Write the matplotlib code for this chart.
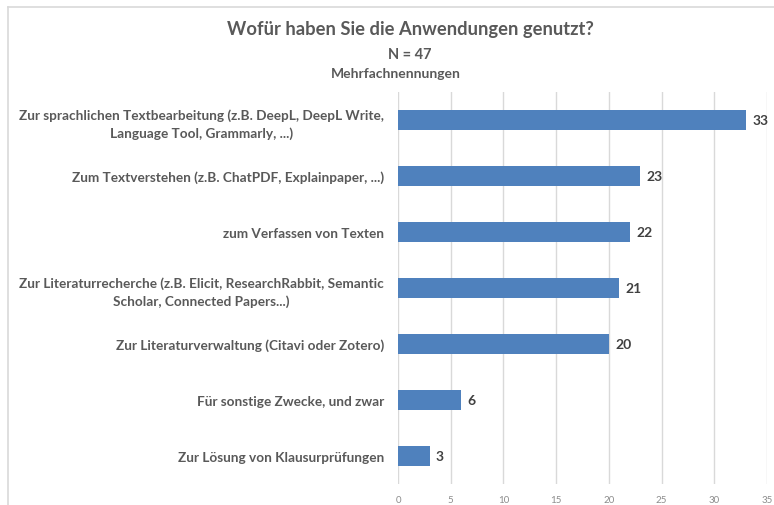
import matplotlib.pyplot as plt
from matplotlib.lines import Line2D

categories = [
    "Zur sprachlichen Textbearbeitung (z.B. DeepL, DeepL Write,\nLanguage Tool, Grammarly, ...)",
    "Zum Textverstehen (z.B. ChatPDF, Explainpaper, ...)",
    "zum Verfassen von Texten",
    "Zur Literaturrecherche (z.B. Elicit, ResearchRabbit, Semantic\nScholar, Connected Papers...)",
    "Zur Literaturverwaltung (Citavi oder Zotero)",
    "Für sonstige Zwecke, und zwar",
    "Zur Lösung von Klausurprüfungen",
]
counts = [33, 23, 22, 21, 20, 6, 3]
xticks = [0, 5, 10, 15, 20, 25, 30, 35]

plt.rcParams['font.family'] = ['Lato', 'DejaVu Sans']

W, H = 774, 506
fig = plt.figure(figsize=(W / 100, H / 100), dpi=100)

# chart frame (light gray border, cut on right/bottom)
fig.add_artist(Line2D([8 / W, 1], [1 - 8 / H, 1 - 8 / H], color="#D9D9D9", lw=1.2))
fig.add_artist(Line2D([8 / W, 8 / W], [1 - 8 / H, 0], color="#D9D9D9", lw=1.2))

ax = fig.add_axes([398 / W, 1 - 485 / H, (767 - 398) / W, (485 - 93) / H])

y = list(range(len(categories)))
ax.barh(y, counts, height=0.35, color="#4F81BD", zorder=3)
ax.set_ylim(len(categories) - 0.5, -0.5)
ax.set_xlim(0, 35)
ax.set_xticks(xticks)
ax.set_yticks(y)
ax.set_yticklabels(categories, fontsize=9.8, fontweight="bold", color="#595959",
                   ha="right", multialignment="center", linespacing=1.5)
ax.tick_params(axis="y", length=0, pad=10)
ax.tick_params(axis="x", length=0, labelsize=7, labelcolor="#8C8C8C", pad=8)
ax.grid(axis="x", color="#D9D9D9", lw=1, zorder=0)
for s in ax.spines.values():
    s.set_visible(False)

for yi, v in zip(y, counts):
    ax.text(v + 0.6, yi, str(v), va="center", ha="left", fontsize=10,
            fontweight="bold", color="#404040")

fig.text(410 / W, 1 - 30 / H, "Wofür haben Sie die Anwendungen genutzt?", ha="center",
         va="center", fontsize=13.2, fontweight="bold", color="#595959")
fig.text(410 / W, 1 - 55 / H, "N = 47", ha="center", va="center", fontsize=10.5,
         fontweight="bold", color="#595959")
fig.text(396 / W, 1 - 74 / H, "Mehrfachnennungen", ha="center", va="center", fontsize=10,
         fontweight="bold", color="#595959")

fig.savefig("out.png", dpi=100)
